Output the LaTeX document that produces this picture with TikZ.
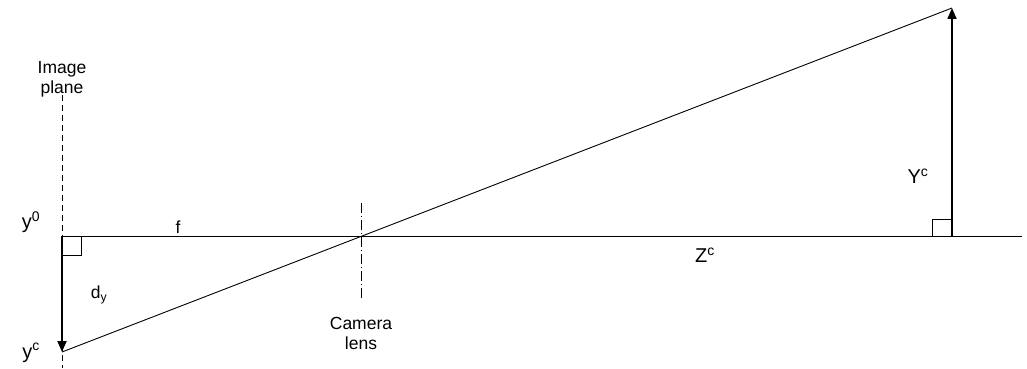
\documentclass[tikz,border=0pt]{standalone}
\usepackage{fontspec}
\setmainfont{Liberation Sans}
\usetikzlibrary{arrows.meta}
\tikzset{
  lbl/.style={font=\fontsize{17.5}{20}\selectfont, inner sep=0pt},
  biglbl/.style={font=\fontsize{20}{22}\selectfont, inner sep=0pt},
  arr/.style={line width=1.8pt, -{Triangle[length=11pt,width=9pt]}},
}
\begin{document}
\begin{tikzpicture}[x=1pt, y=-1pt, line width=0.9pt]
    \useasboundingbox (0,0) rectangle (1027,369);
    \coordinate (imgtop) at (62,95);
    \coordinate (imgbot) at (62,368);
    \coordinate (o) at (62,236);
    \coordinate (axisend) at (1022,236);
    \coordinate (lens) at (361,236);
    \coordinate (lenstop) at (361,203);
    \coordinate (lensbot) at (361,300);
    \coordinate (obj) at (952,236);
    \coordinate (objtop) at (952,8);
    \coordinate (yc) at (62,352);

    % image plane and lens
    \draw[dash pattern=on 6pt off 4pt] (imgtop) -- (imgbot);
    \draw[dash pattern=on 10pt off 3pt on 1pt off 3pt] (lenstop) -- (lensbot);

    % optical axis and ray
    \draw (o) -- (axisend);
    \draw (yc) -- (objtop);

    % right angles
    \draw (o) rectangle ++(19,19);
    \draw (obj) rectangle ++(-20,-17);

    % object and image
    \draw[arr] (obj) -- (objtop);
    \draw[arr] (o) -- (yc);

    \node[lbl, align=center] (plane) at (62,98) [above] {Image\\plane};
    \node[biglbl] (y0) at (31,222) {y\textsuperscript{0}};
    \node[lbl] (f) at (178,227) {f};
    \node[lbl] (dy) at (99,295) {d\textsubscript{y}};
    \node[biglbl] (yclbl) at (31,353) {y\textsuperscript{c}};
    \node[lbl, align=center] (cam) at (361,333) {Camera\\lens};
    \node[biglbl] (zc) at (705,255) {Z\textsuperscript{c}};
    \node[biglbl] (Yc) at (918,176) {Y\textsuperscript{c}};
\end{tikzpicture}
\end{document}
